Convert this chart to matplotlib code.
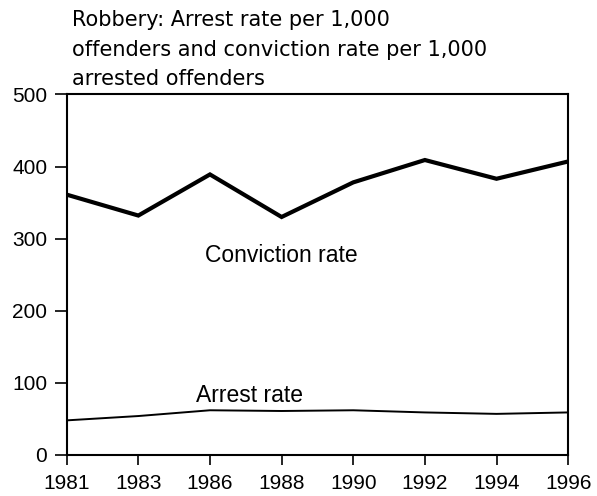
import matplotlib
matplotlib.use("Agg")
import matplotlib.pyplot as plt

years = ["1981", "1983", "1986", "1988", "1990", "1992", "1994", "1996"]
conviction_rate = [361, 332, 389, 330, 378, 409, 383, 407]
arrest_rate = [48, 54, 62, 61, 62, 59, 57, 59]
yticks = [0, 100, 200, 300, 400, 500]
title_lines = ["Robbery: Arrest rate per 1,000",
               "offenders and conviction rate per 1,000",
               "arrested offenders"]

plt.rcParams['font.family'] = ['Liberation Sans', 'DejaVu Sans']

fig = plt.figure(figsize=(5.97, 4.96), dpi=100)
ax = fig.add_axes([0.1117, 0.0827, 0.840, 0.727])

x = list(range(len(years)))
ax.plot(x, conviction_rate, color='black', lw=3.0, solid_joinstyle='miter')
ax.plot(x, arrest_rate, color='black', lw=1.4)

ax.set_xlim(0, len(years) - 1)
ax.set_ylim(0, 500)
ax.set_xticks(x)
ax.set_xticklabels(years)
ax.set_yticks(yticks)
ax.tick_params(axis='both', direction='out', width=1.2,
               labelsize=15, colors='black')
ax.tick_params(axis='x', length=7.5, pad=6)
ax.tick_params(axis='y', length=9, pad=5)
for s in ax.spines.values():
    s.set_linewidth(1.5)

ax.text(2.99, 267, "Conviction rate", ha='center', va='baseline', fontsize=16.5)
ax.text(2.55, 73, "Arrest rate", ha='center', va='baseline', fontsize=16.5)

for i, line in enumerate(title_lines):
    fig.text(0.121, 1 - (26.3 + 29.3 * i) / 496, line, ha='left',
             va='baseline', fontsize=15, family=['DejaVu Sans'])

fig.savefig("out.png", dpi=100)
